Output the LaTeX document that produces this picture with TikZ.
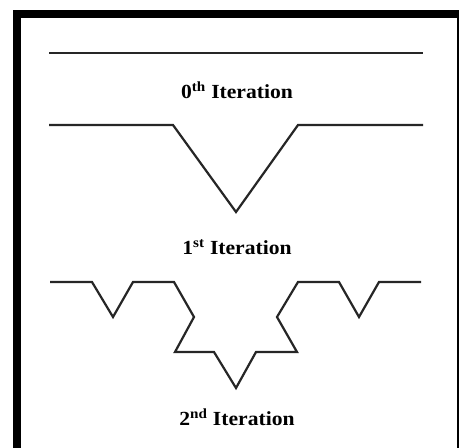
\documentclass[tikz,border=0pt]{standalone}
\usepackage{fontspec}
\setmainfont{Liberation Serif}
\begin{document}
\begin{tikzpicture}[x=1pt,y=-1pt,
  curve/.style={line width=2.2pt,line join=miter,color=black!85},
  label/.style={font=\fontsize{20}{24}\selectfont\bfseries,inner sep=0pt,xscale=1.08}]
\useasboundingbox (0,0) rectangle (459,448);
\fill[black] (13,10) rectangle (459,448);
\fill[white] (21,18) rectangle (457,448);
% 0th iteration
\draw[curve] (49,53) -- (423,53);
\node[label] (l0) at (237,90) {0\textsuperscript{th} Iteration};
% 1st iteration
\draw[curve] (49,125) -- (173,125) -- (236,212) -- (298,125) -- (423,125);
\node[label] (l1) at (237,247) {1\textsuperscript{st} Iteration};
% 2nd iteration
\draw[curve] (50,282) -- (92,282) -- (113,317) -- (133,282) -- (174,282)
  -- (194,317) -- (175,352) -- (214,352) -- (236,388) -- (256,352)
  -- (297,352) -- (277,317) -- (298,282) -- (339,282) -- (359,317)
  -- (379,282) -- (421,282);
\node[label] (l2) at (237,417) {2\textsuperscript{nd} Iteration};
\end{tikzpicture}
\end{document}
